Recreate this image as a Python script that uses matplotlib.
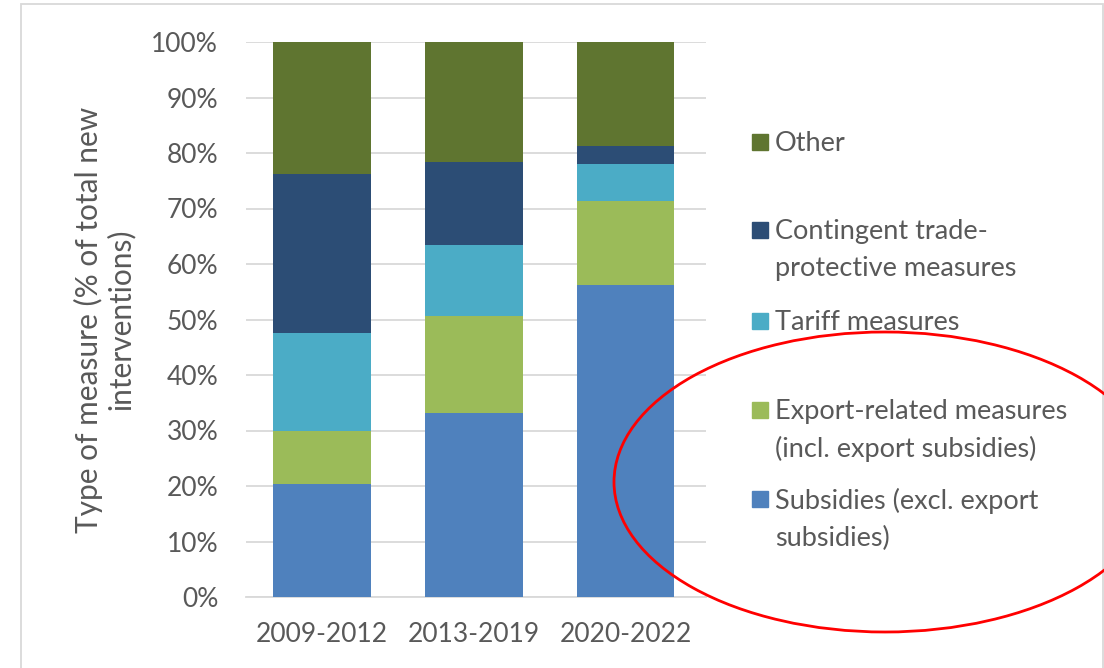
import matplotlib.pyplot as plt
from matplotlib.patches import Rectangle, Ellipse
import numpy as np

periods = ["2009-2012", "2013-2019", "2020-2022"]
subsidies = [20.4, 33.2, 56.2]
export_related = [9.5, 17.4, 15.2]
tariff = [17.7, 12.8, 6.6]
contingent = [28.6, 15.0, 3.3]
other = [23.8, 21.6, 18.7]

series = [
    ("Subsidies (excl. export\nsubsidies)", subsidies, "#4F81BD"),
    ("Export-related measures\n(incl. export subsidies)", export_related, "#9BBB59"),
    ("Tariff measures", tariff, "#4BACC6"),
    ("Contingent trade-\nprotective measures", contingent, "#2C4D75"),
    ("Other", other, "#5F7530"),
]

text_col = "#595959"
plt.rcParams["font.family"] = ["Lato", "DejaVu Sans"]

W, H = 1104, 668
fig = plt.figure(figsize=(W / 100, H / 100), dpi=100)
ax = fig.add_axes([246 / W, 1 - 597 / H, 460 / W, 555 / H])

x = np.arange(len(periods))
bottom = np.zeros(len(periods))
for label, vals, col in series:
    ax.bar(x, vals, width=0.645, bottom=bottom, color=col, label=label, zorder=3)
    bottom += np.array(vals)

ax.set_xlim(-0.5, 2.53)
ax.set_ylim(0, 100)
ax.set_yticks(np.arange(0, 101, 10))
ax.set_yticklabels([f"{v}%" for v in range(0, 101, 10)])
ax.set_xticks(x)
ax.set_xticklabels(periods)
ax.yaxis.grid(True, color="#D9D9D9", linewidth=1.3, zorder=0)
for s in ["top", "right", "left"]:
    ax.spines[s].set_visible(False)
ax.spines["bottom"].set_color("#D9D9D9")
ax.spines["bottom"].set_linewidth(1.3)
ax.tick_params(axis="both", length=0, labelsize=19, colors=text_col)
ax.tick_params(axis="y", pad=20)
ax.tick_params(axis="x", pad=18)

ax.set_ylabel("Type of measure (% of total new\ninterventions)", fontsize=21.5,
              color=text_col, labelpad=12, linespacing=1.12)

# legend drawn by hand so the uneven Excel spacing is kept
legend_rows = [(142, "Other", "#5F7530"),
               (230, "Contingent trade-\nprotective measures", "#2C4D75"),
               (321, "Tariff measures", "#4BACC6"),
               (410, "Export-related measures\n(incl. export subsidies)", "#9BBB59"),
               (499, "Subsidies (excl. export\nsubsidies)", "#4F81BD")]
for yc, txt, col in legend_rows:
    fig.add_artist(Rectangle((752 / W, 1 - (yc + 8) / H), 16 / W, 16 / H,
                             transform=fig.transFigure, color=col))
    fig.text(775 / W, 1 - (yc - 11) / H, txt, fontsize=19.5, color=text_col,
             va="top", ha="left", linespacing=1.58,
             transform=fig.transFigure)

# outer chart frame
fig.add_artist(Rectangle((21 / W, -0.05), (1103 - 21) / W, 1.05 - 4 / H,
                         transform=fig.transFigure, fill=False,
                         edgecolor="#D9D9D9", linewidth=1.3))

# red highlight ring
fig.add_artist(Ellipse((885 / W, 1 - 482 / H), 542 / W, 300 / H, angle=0,
                       transform=fig.transFigure, fill=False,
                       edgecolor="red", linewidth=2, zorder=10))

fig.savefig("out.png", dpi=100)
